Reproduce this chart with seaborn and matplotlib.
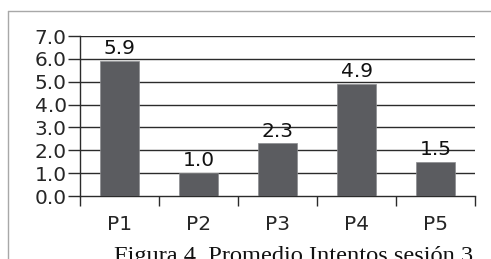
import matplotlib
matplotlib.use("Agg")
import matplotlib.pyplot as plt
import seaborn as sns
import pandas as pd
from matplotlib.lines import Line2D

categories = ["P1", "P2", "P3", "P4", "P5"]
values = [5.9, 1.0, 2.3, 4.9, 1.5]
yticks = [0.0, 1.0, 2.0, 3.0, 4.0, 5.0, 6.0, 7.0]
caption = "Figura 4. Promedio Intentos sesión 3"

sns.set_style("white")
plt.rcParams['font.family'] = ['DejaVu Sans']

df = pd.DataFrame({"cat": categories, "val": values})

fig = plt.figure(figsize=(4.91, 2.59), dpi=100)
ax = fig.add_axes([80/491, 1-196/259, (475-80)/491, 160/259])

sns.barplot(data=df, x="cat", y="val", color="#5b5c60", width=0.49,
            saturation=1, ax=ax, edgecolor="#8a8b8e", linewidth=0.5, zorder=3)

fs = 14.5
ax.set_ylim(0, 7.0)
ax.set_xlim(-0.5, 4.5)
ax.set_yticks(yticks)
ax.set_yticklabels([f"{v:.1f}" for v in yticks], fontsize=fs)
for y in yticks[1:]:
    ax.axhline(y, color="#2b2b2b", linewidth=1.0, zorder=1)

ax.set_xticks([i - 0.5 for i in range(len(categories) + 1)])
ax.set_xticklabels([])
ax.tick_params(axis="x", which="major", direction="out", length=7, width=1.0,
               color="#2b2b2b", bottom=True)
ax.tick_params(axis="y", direction="out", length=8.6, width=1.0, color="#2b2b2b",
               left=True, pad=1)
ax.set_xticks(range(len(categories)), minor=True)
ax.set_xticklabels(categories, minor=True, fontsize=fs)
ax.tick_params(axis="x", which="minor", length=0, pad=14)

for s in ["top", "right"]:
    ax.spines[s].set_visible(False)
for s in ["left", "bottom"]:
    ax.spines[s].set_color("#2b2b2b")
    ax.spines[s].set_linewidth(1.0)

ax.set_xlabel("")
ax.set_ylabel("")

for i, v in enumerate(values):
    ax.text(i, v + 0.12, f"{v:.1f}", ha="center", va="bottom", fontsize=fs,
            color="#111111", zorder=4)

# page border lines
fig.add_artist(Line2D([8/491, 1.0], [1-10.5/259, 1-10.5/259], color="#a8a8a8",
                      linewidth=1.0, transform=fig.transFigure))
fig.add_artist(Line2D([8/491, 8/491], [1-10.5/259, 0], color="#a8a8a8",
                      linewidth=1.0, transform=fig.transFigure))

fig.text(293.5/491, 1-262/259, caption, ha="center", va="baseline",
         fontsize=17.6, family=["Liberation Serif"], color="#111111")

fig.savefig("out.png", dpi=100)
